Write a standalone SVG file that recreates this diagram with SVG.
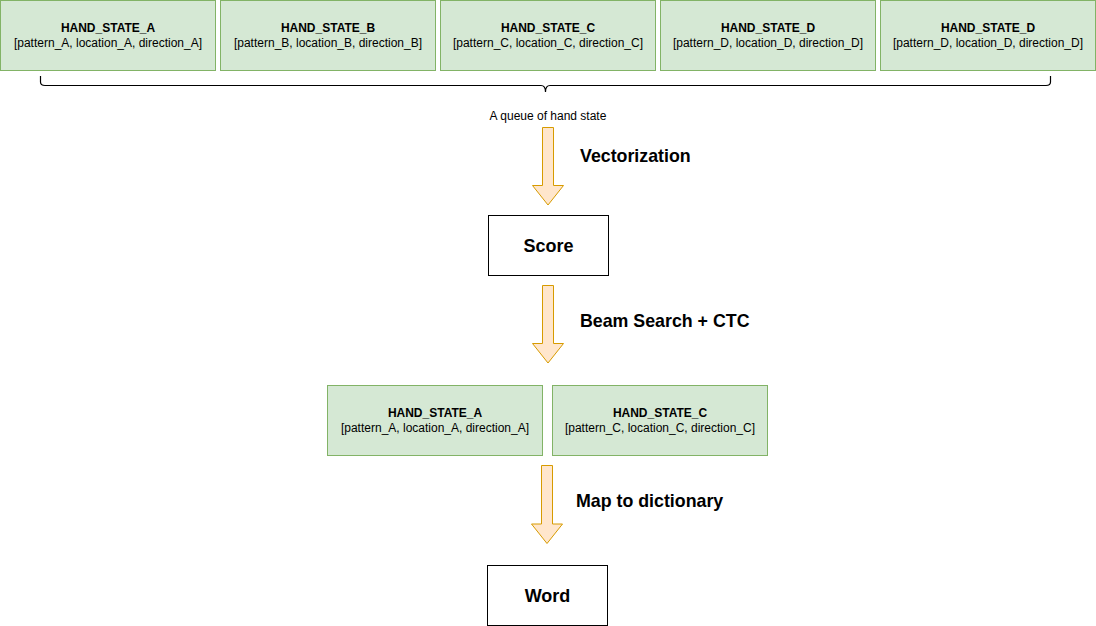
<svg xmlns="http://www.w3.org/2000/svg" width="1096" height="626" viewBox="0 0 1096 626">
<style>
.g{fill:#d5e8d4;stroke:#82b366;stroke-width:1}
.w{fill:#ffffff;stroke:#000000;stroke-width:1}
.ar{fill:#ffe6cc;stroke:#d79b00;stroke-width:1}
text{font-family:"Liberation Sans",Arial,sans-serif;fill:#000}
.t{font-size:12px;font-weight:bold;text-anchor:middle}
.s{font-size:12px;text-anchor:middle}
.l{font-size:17.8px;font-weight:bold}
.b{font-size:18px;font-weight:bold;text-anchor:middle}
</style>
<rect width="1096" height="626" fill="#ffffff"/>
<g id="hsA"><rect class="g" x="0.5" y="0.5" width="215" height="70"/><text class="t" x="108" y="32">HAND_STATE_A</text><text class="s" x="108" y="47">[pattern_A, location_A, direction_A]</text></g>
<g id="hsB"><rect class="g" x="220.5" y="0.5" width="215" height="70"/><text class="t" x="328" y="32">HAND_STATE_B</text><text class="s" x="328" y="47">[pattern_B, location_B, direction_B]</text></g>
<g id="hsC"><rect class="g" x="440.5" y="0.5" width="215" height="70"/><text class="t" x="548" y="32">HAND_STATE_C</text><text class="s" x="548" y="47">[pattern_C, location_C, direction_C]</text></g>
<g id="hsD1"><rect class="g" x="660.5" y="0.5" width="215" height="70"/><text class="t" x="768" y="32">HAND_STATE_D</text><text class="s" x="768" y="47">[pattern_D, location_D, direction_D]</text></g>
<g id="hsD2"><rect class="g" x="880.5" y="0.5" width="215" height="70"/><text class="t" x="988" y="32">HAND_STATE_D</text><text class="s" x="988" y="47">[pattern_D, location_D, direction_D]</text></g>
<g id="brace"><path d="M40.5,76 L40.5,82 Q40.5,85.5 45,85.5 L541,85.5 Q545.5,85.5 545.5,92 Q545.5,85.5 550,85.5 L1046,85.5 Q1050.5,85.5 1050.5,82 L1050.5,76" fill="none" stroke="#000" stroke-width="1.2"/><text class="s" x="548" y="120">A queue of hand state</text></g>
<g id="score"><rect class="w" x="488.5" y="215.5" width="120" height="60"/><text class="b" x="548.5" y="252">Score</text></g>
<g id="hsA2"><rect class="g" x="327.5" y="385.5" width="215" height="70"/><text class="t" x="435" y="417">HAND_STATE_A</text><text class="s" x="435" y="432">[pattern_A, location_A, direction_A]</text></g>
<g id="hsC2"><rect class="g" x="552.5" y="385.5" width="215" height="70"/><text class="t" x="660" y="417">HAND_STATE_C</text><text class="s" x="660" y="432">[pattern_C, location_C, direction_C]</text></g>
<g id="word"><rect class="w" x="487.5" y="565.5" width="120" height="60"/><text class="b" x="547.5" y="602">Word</text></g>
<g id="connectors">
<path class="ar" d="M542.5,127.5 L553.5,127.5 L553.5,185.5 L563.5,185.5 L548,205 L532.5,185.5 L542.5,185.5 Z"/>
<text class="l" x="580" y="162">Vectorization</text>
<path class="ar" d="M542.5,285.5 L553.5,285.5 L553.5,343.5 L563.5,343.5 L548,363 L532.5,343.5 L542.5,343.5 Z"/>
<text class="l" x="580" y="327">Beam Search + CTC</text>
<path class="ar" d="M541.5,465.5 L552.5,465.5 L552.5,524 L562.5,524 L547,543.5 L531.5,524 L541.5,524 Z"/>
<text class="l" x="576" y="507">Map to dictionary</text>
</g>
</svg>
